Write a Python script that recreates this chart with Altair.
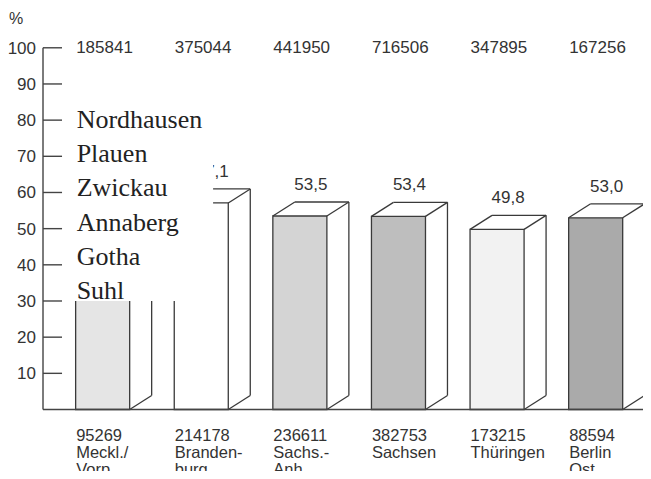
import altair as alt
import pandas as pd

# ---------------- data ----------------
region_keys = ["Meckl./Vorp.", "Brandenburg", "Sachs.-Anh.", "Sachsen", "Thüringen", "Berlin Ost"]
region_labels = ["Meckl./\nVorp.", "Branden-\nburg", "Sachs.-\nAnh.", "Sachsen", "Thüringen", "Berlin\nOst"]
totals = [185841, 375044, 441950, 716506, 347895, 167256]
votes = [95269, 214178, 236611, 382753, 173215, 88594]
percent = [51.3, 57.1, 53.5, 53.4, 49.8, 53.0]
cities = ["Nordhausen", "Plauen", "Zwickau", "Annaberg", "Gotha", "Suhl"]
y_ticks = [10, 20, 30, 40, 50, 60, 70, 80, 90, 100]

# ---------------- style / geometry constants ----------------
fills = ["#e5e5e5", "#ffffff", "#d4d4d4", "#bebebe", "#f2f2f2", "#aaaaaa"]
LINE = "#3a3a3a"
TXT = "#333333"
SANS = "Liberation Sans"
SERIF = "Liberation Serif"
FS = 17
HW = 0.274      # half width of the front face (x units)
DX = 0.223      # depth offset in x (x units)
DY = 3.87       # depth offset in y (value units)
AX_X = -0.605   # position of the vertical axis line
AX_END = 5.48
TICK_END = -0.412
TICK_LABEL_X = -0.676
OVER_X0, OVER_X1, OVER_Y0, OVER_Y1 = -0.39, 1.12, 30, 90
X_MIN, X_MAX = -0.96, 5.48

XS = alt.Scale(domain=[X_MIN, X_MAX], nice=False, zero=False)
YS = alt.Scale(domain=[-17, 111], nice=False, zero=False)


def X(f):
    return alt.X(f, type="quantitative", scale=XS, axis=None)


def Y(f):
    return alt.Y(f, type="quantitative", scale=YS, axis=None)


bars = pd.DataFrame({
    "key": region_keys,
    "i": list(range(len(region_keys))),
    "pct": percent,
})
bars["L"] = bars["i"] - HW
bars["R"] = bars["i"] + HW
bars["zero"] = 0.0
bars["vlab"] = [f"{p:.1f}".replace(".", ",") for p in percent]
bars["vx"] = bars["i"] + DX / 2
bars["vy"] = bars["pct"] + 7.2
bars["top_txt"] = [str(t) for t in totals]
bars["top_y"] = 100.0
bars["bot_txt"] = [f"{v}\n{lab}" for v, lab in zip(votes, region_labels)]
bars["bot_y"] = -5.1
bars["txt_x"] = bars["L"] + 0.005

segs = []
for i, p in zip(range(len(percent)), percent):
    L, R = i - HW, i + HW
    segs += [
        (L, p, L + DX, p + DY),
        (L + DX, p + DY, R + DX, p + DY),
        (R, p, R + DX, p + DY),
        (R + DX, p + DY, R + DX, DY),
        (R, 0, R + DX, DY),
    ]
seg_df = pd.DataFrame(segs, columns=["x", "y", "x2", "y2"])

front = alt.Chart(bars).mark_rect(stroke=LINE, strokeWidth=1.3).encode(
    x=X("L"), x2="R", y=Y("zero"), y2="pct",
    color=alt.Color("key:N", scale=alt.Scale(domain=region_keys, range=fills), legend=None),
)
edges = alt.Chart(seg_df).mark_rule(color=LINE, strokeWidth=1.3).encode(
    x=X("x"), x2="x2", y=Y("y"), y2="y2"
)
# the first bar's value label is hidden under the pasted patch in the original
vlabels = alt.Chart(bars).transform_filter("datum.i > 0").mark_text(
    font=SANS, fontSize=FS, color=TXT, align="center", baseline="alphabetic").encode(
    x=X("vx"), y=Y("vy"), text="vlab:N"
)

# white patch pasted over the first two bars
over_df = pd.DataFrame({"x": [OVER_X0], "x2": [OVER_X1], "y": [OVER_Y0], "y2": [OVER_Y1]})
overlay = alt.Chart(over_df).mark_rect(color="white").encode(
    x=X("x"), x2="x2", y=Y("y"), y2="y2"
)
city_df = pd.DataFrame({
    "city": cities,
    "x": [-HW + 0.01] * len(cities),
    "y": [77.8 - 9.44 * k for k in range(len(cities))],
})
city_text = alt.Chart(city_df).mark_text(font=SERIF, fontSize=26, color="#222222", align="left",
                                         baseline="alphabetic").encode(
    x=X("x"), y=Y("y"), text="city:N"
)

# axes
axis_df = pd.DataFrame({"x": [AX_X, AX_X], "x2": [AX_X, AX_END], "y": [0, 0], "y2": [100, 0]})
axis_lines = alt.Chart(axis_df).mark_rule(color="#444444", strokeWidth=1.4).encode(
    x=X("x"), x2="x2", y=Y("y"), y2="y2"
)
tick_df = pd.DataFrame({"v": y_ticks, "x": [AX_X] * len(y_ticks), "x2": [TICK_END] * len(y_ticks),
                        "lx": [TICK_LABEL_X] * len(y_ticks),
                        "lab": [str(t) for t in y_ticks]})
ticks = alt.Chart(tick_df).mark_rule(color="#444444", strokeWidth=1.4).encode(
    x=X("x"), x2="x2", y=Y("v")
)
tick_labels = alt.Chart(tick_df).mark_text(font=SANS, fontSize=FS, color=TXT, align="right",
                                           baseline="alphabetic", dy=6).encode(
    x=X("lx"), y=Y("v"), text="lab:N"
)
pct_df = pd.DataFrame({"x": [-0.95], "y": [108.0], "t": ["%"]})
pct_sign = alt.Chart(pct_df).mark_text(font=SANS, fontSize=16, color=TXT, align="left",
                                       baseline="middle").encode(
    x=X("x"), y=Y("y"), text="t:N"
)

top_labels = alt.Chart(bars).mark_text(font=SANS, fontSize=FS, color=TXT, align="left",
                                       baseline="alphabetic", dy=5).encode(
    x=X("txt_x"), y=Y("top_y"), text="top_txt:N"
)
bot_labels = alt.Chart(bars).mark_text(font=SANS, fontSize=16.5, color=TXT, align="left",
                                       baseline="top", lineBreak="\n", lineHeight=17).encode(
    x=X("txt_x"), y=Y("bot_y"), text="bot_txt:N"
)

chart = alt.layer(
    front, edges, vlabels, overlay, city_text,
    axis_lines, ticks, tick_labels, pct_sign, top_labels, bot_labels,
).properties(
    width=635, height=463,
    autosize=alt.AutoSizeParams(type="none"),
    padding=0,
).configure_view(stroke=None)

chart.save("out.html", embed_options={"renderer": "svg", "actions": False})
